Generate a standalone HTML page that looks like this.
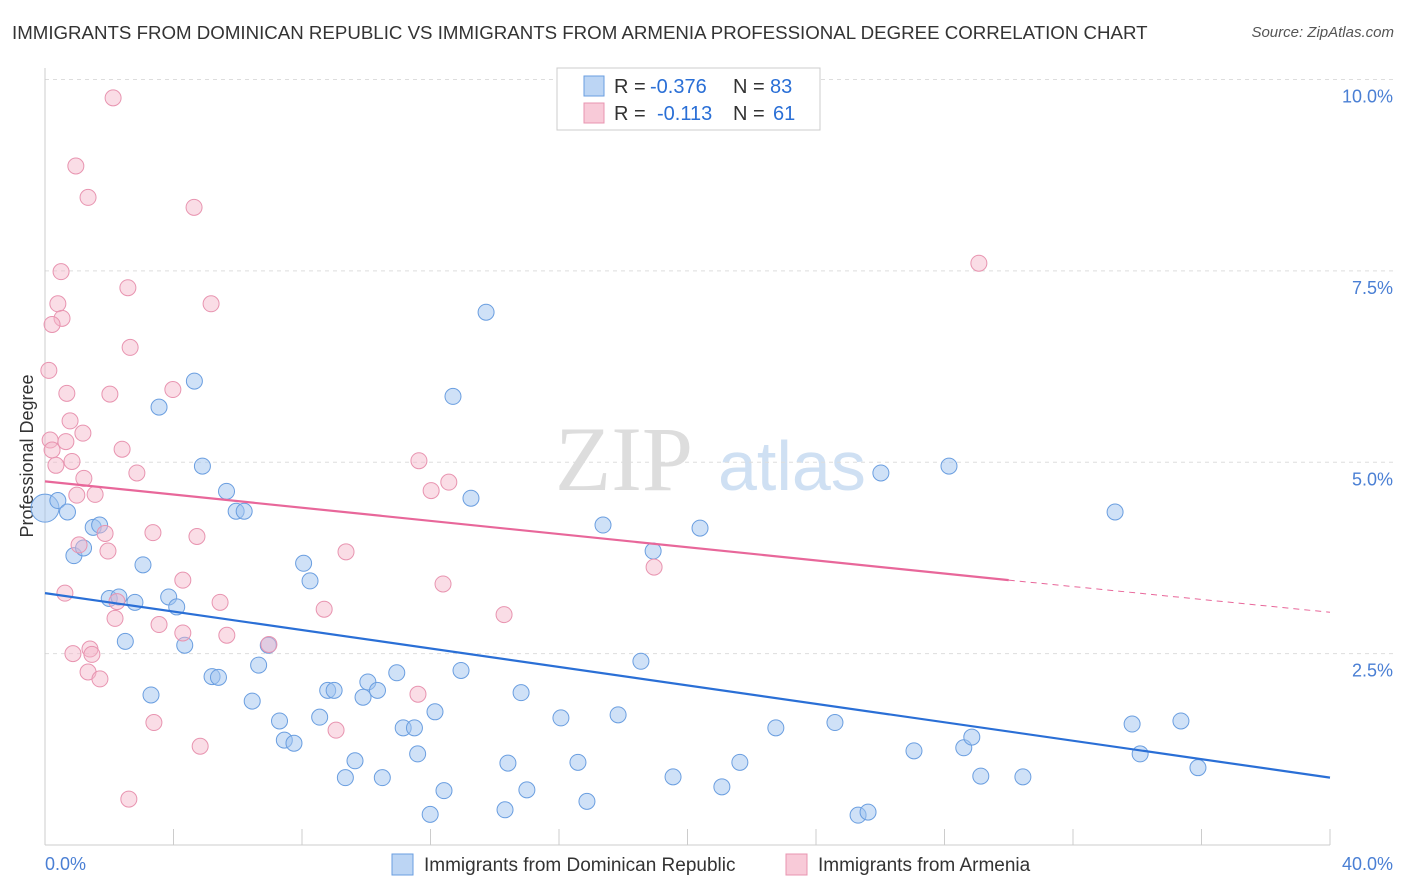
<!DOCTYPE html>
<html><head><meta charset="utf-8">
<style>
body{margin:0;background:#fff;font-family:"Liberation Sans",sans-serif;}
#wrap{position:relative;width:1406px;height:892px;overflow:hidden;}
.title{position:absolute;left:12px;top:22px;font-size:18.7px;color:#333;white-space:nowrap;}
.source{position:absolute;right:12px;top:24px;font-size:15px;color:#555;font-style:italic;}
</style></head>
<body>
<div id="wrap">
<div class="title">IMMIGRANTS FROM DOMINICAN REPUBLIC VS IMMIGRANTS FROM ARMENIA PROFESSIONAL DEGREE CORRELATION CHART</div>
<div class="source">Source: ZipAtlas.com</div>
<svg id="svg" width="1406" height="892" style="position:absolute;left:0;top:0"></svg>
</div>
<script>
const blueX=[0,0.4,0.7,0.9,1.2,1.5,1.7,2.0,2.3,2.8,3.05,2.5,3.3,3.55,3.85,4.1,4.35,4.65,4.9,5.2,5.4,5.65,5.95,6.2,6.45,6.65,6.95,7.3,7.45,7.75,8.05,8.25,8.55,8.8,9.0,9.35,9.65,9.9,10.05,10.35,10.5,10.95,11.15,11.5,11.6,11.99,12.14,12.42,12.7,12.95,13.26,13.73,14.32,14.41,14.82,15.0,16.06,16.59,16.87,17.37,17.84,18.55,18.93,19.55,20.39,21.07,21.63,22.75,24.59,25.31,25.62,26.02,27.05,28.14,28.6,28.85,29.13,30.44,33.31,33.84,34.09,35.36,35.89];
const blueY=[4.4,4.5,4.35,3.78,3.88,4.15,4.18,3.22,3.24,3.17,3.66,2.66,1.96,5.72,3.24,3.11,2.61,6.06,4.95,2.2,2.19,4.62,4.36,4.36,1.88,2.35,2.61,1.62,1.37,1.33,3.68,3.45,1.67,2.02,2.02,0.88,1.1,1.93,2.13,2.02,0.88,2.25,1.53,1.53,1.19,0.4,1.74,0.71,5.86,2.28,4.53,6.96,0.46,1.07,1.99,0.72,1.66,1.08,0.57,4.18,1.7,2.4,3.84,0.89,4.14,0.76,1.08,1.53,1.6,0.39,0.43,4.86,1.23,4.95,1.27,1.41,0.9,0.89,4.35,1.58,1.19,1.62,1.01];
const pinkX=[2.12,0.96,1.34,4.64,0.5,2.58,0.4,5.17,0.53,0.22,2.65,0.12,0.68,2.02,3.98,0.78,1.18,0.65,0.16,2.4,0.22,0.34,0.84,2.86,1.21,1.56,0.99,11.64,12.57,12.02,1.87,3.36,4.73,1.06,1.96,9.37,18.96,4.29,12.39,0.62,2.24,5.45,2.18,8.69,14.29,3.55,4.29,5.66,6.97,1.4,0.87,1.46,1.34,1.71,11.61,3.39,9.06,4.83,2.61,29.07];
const pinkY=[9.76,8.87,8.46,8.33,7.49,7.28,7.07,7.07,6.88,6.8,6.5,6.2,5.9,5.89,5.95,5.54,5.38,5.27,5.29,5.17,5.16,4.96,5.01,4.86,4.79,4.58,4.57,5.02,4.74,4.63,4.07,4.08,4.03,3.92,3.84,3.83,3.63,3.46,3.41,3.29,3.18,3.17,2.96,3.08,3.01,2.88,2.77,2.74,2.62,2.56,2.5,2.49,2.26,2.17,1.97,1.6,1.5,1.29,0.6,7.6];
const xTicks=[0,4,8,12,16,20,24,28,32,36,40];
const yTicks=[2.5,5.0,7.5,10.0];
const NS="http://www.w3.org/2000/svg";
const svg=document.getElementById('svg');
const X=v=>45+v*32.125, Y=v=>845-v*76.55;
function mk(t,a,p){const e=document.createElementNS(NS,t);for(const k in a)e.setAttribute(k,a[k]);(p||svg).appendChild(e);return e;}
let w=mk('text',{x:555,y:490,'font-size':92,fill:'#ddd','font-family':'Liberation Serif'});w.textContent='ZIP';

w=mk('text',{x:718,y:490,'font-size':70,fill:'#cfe0f3','font-family':'Liberation Sans'});w.textContent='atlas';

yTicks.forEach(t=>{
 const g=mk('line',{x1:45,x2:1395,y1:Y(t),y2:Y(t),stroke:'#ddd','stroke-dasharray':'4,4'});
 
 const l=mk('text',{x:1393,y:Y(t)+23,'text-anchor':'end','font-size':18,fill:'#4a7fd4'});l.textContent=t.toFixed(1)+'%';
 
});
let ax=mk('line',{x1:45,x2:45,y1:68,y2:845,stroke:'#ccc'});
ax=mk('line',{x1:45,x2:1330,y1:845,y2:845,stroke:'#ccc'});
xTicks.forEach(t=>{const k=mk('line',{x1:X(t),x2:X(t),y1:829,y2:845,stroke:'#ccc'});});
let tl=mk('text',{x:45,y:870,'font-size':18,fill:'#4a7fd4'});tl.textContent='0.0%';
tl=mk('text',{x:1393,y:870,'text-anchor':'end','font-size':18,fill:'#4a7fd4'});tl.textContent='40.0%';
tl=mk('text',{x:33,y:456,'text-anchor':'middle','font-size':18,fill:'#333',transform:'rotate(-90 33 456)'});tl.textContent='Professional Degree';
blueX.forEach((v,i)=>{const c=mk('circle',{cx:X(v),cy:Y(blueY[i]),r:i==0?14:8,fill:'rgba(160,195,240,0.5)',stroke:'#6a9ee0','stroke-width':1});
 });
pinkX.forEach((v,i)=>{const c=mk('circle',{cx:X(v),cy:Y(pinkY[i]),r:8,fill:'rgba(245,180,200,0.45)',stroke:'#e894b0','stroke-width':1});
 });
let t1=mk('line',{x1:X(0),y1:Y(3.29),x2:X(40),y2:Y(0.88),stroke:'#2a6fd6','stroke-width':2.2});
t1=mk('line',{x1:X(0),y1:Y(4.75),x2:X(30),y2:Y(3.46),stroke:'#e8679a','stroke-width':2.2});
t1=mk('line',{x1:X(30),y1:Y(3.46),x2:X(40),y2:Y(3.04),stroke:'#e8679a','stroke-width':1,'stroke-dasharray':'6,5'});
let lb=mk('rect',{x:557,y:68,width:263,height:62,fill:'#fff',stroke:'#ccc'});
[[86,'rgba(160,195,240,0.7)','#6a9ee0','-0.376','83',650],[113,'rgba(245,180,200,0.7)','#e894b0','-0.113','61',657]].forEach(r=>{
 const s=mk('rect',{x:584,y:r[0]-10,width:20,height:20,fill:r[1],stroke:r[2]});
 const t=mk('text',{x:614,y:r[0]+7,'font-size':20,fill:'#333'});
 t.innerHTML=`R = <tspan x="${r[5]}" fill="#2a6fd6">${r[3]}</tspan><tspan x="733">N = </tspan><tspan x="${r[4]=='83'?770:773}" fill="#2a6fd6">${r[4]}</tspan>`;
});
[[392,'rgba(160,195,240,0.7)','#6a9ee0','Immigrants from Dominican Republic'],[786,'rgba(245,180,200,0.7)','#e894b0','Immigrants from Armenia']].forEach(r=>{
 const s=mk('rect',{x:r[0],y:854,width:21,height:21,fill:r[1],stroke:r[2]});
 const t=mk('text',{x:r[0]+32,y:871,'font-size':19,fill:'#333'});t.textContent=r[3];
});
</script>
</body></html>
